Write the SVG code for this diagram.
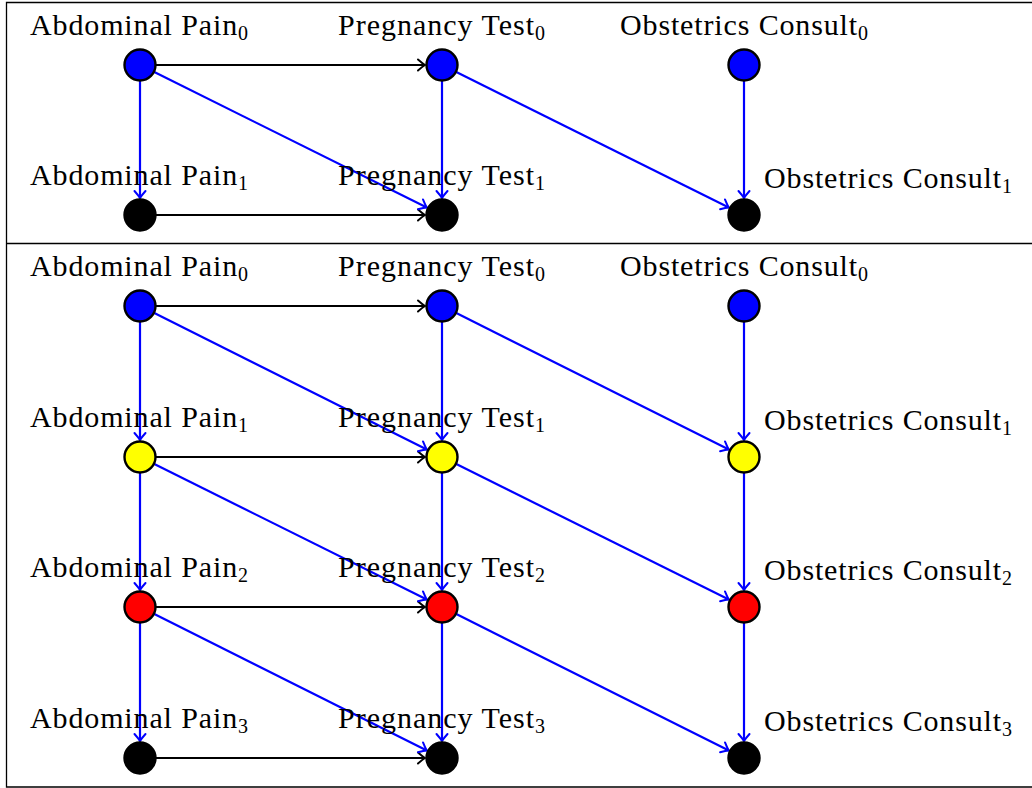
<svg xmlns="http://www.w3.org/2000/svg" width="1032" height="788" viewBox="0 0 1032 788">
  <style>
    .lbl { font-family: "Liberation Serif", "Times New Roman", serif; font-size: 30px; fill: #000; }
    .sub { font-size: 20px; }
    .nd { stroke: #000; stroke-width: 2.4; }
    .blue { fill: #0000ff; }
    .yellow { fill: #ffff00; }
    .red { fill: #ff0000; }
    .black { fill: #000; }
    .e { fill: none; stroke-width: 2.2; }
    .ek { stroke: #000; marker-end: url(#tipK); }
    .eb { stroke: #0000ff; marker-end: url(#tipB); }
    .frame { fill: none; stroke: #000; stroke-width: 1.3; }
  </style>
  <defs>
    <marker id="tipK" markerUnits="userSpaceOnUse" markerWidth="14" markerHeight="14" viewBox="-10 -7 12 14" refX="0" refY="0" orient="auto">
      <path d="M -7 -5.5 Q -2.5 -1.5 0 0 Q -2.5 1.5 -7 5.5" fill="none" stroke="#000" stroke-width="2" stroke-linecap="round"/>
    </marker>
    <marker id="tipB" markerUnits="userSpaceOnUse" markerWidth="14" markerHeight="14" viewBox="-10 -7 12 14" refX="0" refY="0" orient="auto">
      <path d="M -7 -5.5 Q -2.5 -1.5 0 0 Q -2.5 1.5 -7 5.5" fill="none" stroke="#0000ff" stroke-width="2" stroke-linecap="round"/>
    </marker>
  </defs>

  <rect width="1032" height="788" fill="#fff"/>

  <!-- panel frames -->
  <g id="frames">
    <path class="frame" d="M 1040 2.5 H 6.5 V 787 H 1040 M 6.5 243.5 H 1040"/>
  </g>

  <!-- connectors -->
  <g id="connectors">
    <!-- two-slice network -->
    <line class="e ek" x1="156" y1="65" x2="425" y2="65"/>
    <line class="e ek" x1="156" y1="215" x2="425" y2="215"/>
    <line class="e eb" x1="140" y1="81" x2="140" y2="198"/>
    <line class="e eb" x1="442" y1="81" x2="442" y2="198"/>
    <line class="e eb" x1="744" y1="81" x2="744" y2="198"/>
    <line class="e eb" x1="154.3" y1="72.1" x2="426.8" y2="207.5"/>
    <line class="e eb" x1="456.3" y1="72.1" x2="728.8" y2="207.5"/>

    <!-- unrolled network -->
    <line class="e ek" x1="156" y1="306" x2="425" y2="306"/>
    <line class="e ek" x1="156" y1="457" x2="425" y2="457"/>
    <line class="e ek" x1="156" y1="607" x2="425" y2="607"/>
    <line class="e ek" x1="156" y1="758" x2="425" y2="758"/>

    <line class="e eb" x1="140" y1="322" x2="140" y2="440"/>
    <line class="e eb" x1="140" y1="473" x2="140" y2="590"/>
    <line class="e eb" x1="140" y1="623" x2="140" y2="741"/>
    <line class="e eb" x1="442" y1="322" x2="442" y2="440"/>
    <line class="e eb" x1="442" y1="473" x2="442" y2="590"/>
    <line class="e eb" x1="442" y1="623" x2="442" y2="741"/>
    <line class="e eb" x1="744" y1="322" x2="744" y2="440"/>
    <line class="e eb" x1="744" y1="473" x2="744" y2="590"/>
    <line class="e eb" x1="744" y1="623" x2="744" y2="741"/>

    <line class="e eb" x1="154.3" y1="313.1" x2="426.8" y2="449.5"/>
    <line class="e eb" x1="154.3" y1="464.1" x2="426.8" y2="599.5"/>
    <line class="e eb" x1="154.3" y1="614.1" x2="426.8" y2="750.5"/>
    <line class="e eb" x1="456.3" y1="313.1" x2="728.8" y2="449.5"/>
    <line class="e eb" x1="456.3" y1="464.1" x2="728.8" y2="599.5"/>
    <line class="e eb" x1="456.3" y1="614.1" x2="728.8" y2="750.5"/>
  </g>

  <!-- two-slice network nodes -->
  <g id="a0-top">
    <circle class="nd blue" cx="140" cy="65" r="15.5"/>
    <text class="lbl" x="30" y="35" textLength="218">Abdominal Pain<tspan class="sub" dy="5">0</tspan></text>
  </g>
  <g id="p0-top">
    <circle class="nd blue" cx="442" cy="65" r="15.5"/>
    <text class="lbl" x="338" y="35" textLength="207">Pregnancy Test<tspan class="sub" dy="5">0</tspan></text>
  </g>
  <g id="o0-top">
    <circle class="nd blue" cx="744" cy="65" r="15.5"/>
    <text class="lbl" x="620" y="35" textLength="248">Obstetrics Consult<tspan class="sub" dy="5">0</tspan></text>
  </g>
  <g id="a1-top">
    <circle class="nd black" cx="140" cy="215" r="15.5"/>
    <text class="lbl" x="30" y="185" textLength="218">Abdominal Pain<tspan class="sub" dy="5">1</tspan></text>
  </g>
  <g id="p1-top">
    <circle class="nd black" cx="442" cy="215" r="15.5"/>
    <text class="lbl" x="338" y="185" textLength="207">Pregnancy Test<tspan class="sub" dy="5">1</tspan></text>
  </g>
  <g id="o1-top">
    <circle class="nd black" cx="744" cy="215" r="15.5"/>
    <text class="lbl" x="764" y="188" textLength="248">Obstetrics Consult<tspan class="sub" dy="5">1</tspan></text>
  </g>

  <!-- unrolled network nodes -->
  <g id="a0">
    <circle class="nd blue" cx="140" cy="306" r="15.5"/>
    <text class="lbl" x="30" y="276" textLength="218">Abdominal Pain<tspan class="sub" dy="5">0</tspan></text>
  </g>
  <g id="p0">
    <circle class="nd blue" cx="442" cy="306" r="15.5"/>
    <text class="lbl" x="338" y="276" textLength="207">Pregnancy Test<tspan class="sub" dy="5">0</tspan></text>
  </g>
  <g id="o0">
    <circle class="nd blue" cx="744" cy="306" r="15.5"/>
    <text class="lbl" x="620" y="276" textLength="248">Obstetrics Consult<tspan class="sub" dy="5">0</tspan></text>
  </g>

  <g id="a1">
    <circle class="nd yellow" cx="140" cy="457" r="15.5"/>
    <text class="lbl" x="30" y="427" textLength="218">Abdominal Pain<tspan class="sub" dy="5">1</tspan></text>
  </g>
  <g id="p1">
    <circle class="nd yellow" cx="442" cy="457" r="15.5"/>
    <text class="lbl" x="338" y="427" textLength="207">Pregnancy Test<tspan class="sub" dy="5">1</tspan></text>
  </g>
  <g id="o1">
    <circle class="nd yellow" cx="744" cy="457" r="15.5"/>
    <text class="lbl" x="764" y="430" textLength="248">Obstetrics Consult<tspan class="sub" dy="5">1</tspan></text>
  </g>

  <g id="a2">
    <circle class="nd red" cx="140" cy="607" r="15.5"/>
    <text class="lbl" x="30" y="577" textLength="218">Abdominal Pain<tspan class="sub" dy="5">2</tspan></text>
  </g>
  <g id="p2">
    <circle class="nd red" cx="442" cy="607" r="15.5"/>
    <text class="lbl" x="338" y="577" textLength="207">Pregnancy Test<tspan class="sub" dy="5">2</tspan></text>
  </g>
  <g id="o2">
    <circle class="nd red" cx="744" cy="607" r="15.5"/>
    <text class="lbl" x="764" y="580" textLength="248">Obstetrics Consult<tspan class="sub" dy="5">2</tspan></text>
  </g>

  <g id="a3">
    <circle class="nd black" cx="140" cy="758" r="15.5"/>
    <text class="lbl" x="30" y="728" textLength="218">Abdominal Pain<tspan class="sub" dy="5">3</tspan></text>
  </g>
  <g id="p3">
    <circle class="nd black" cx="442" cy="758" r="15.5"/>
    <text class="lbl" x="338" y="728" textLength="207">Pregnancy Test<tspan class="sub" dy="5">3</tspan></text>
  </g>
  <g id="o3">
    <circle class="nd black" cx="744" cy="758" r="15.5"/>
    <text class="lbl" x="764" y="731" textLength="248">Obstetrics Consult<tspan class="sub" dy="5">3</tspan></text>
  </g>
</svg>
